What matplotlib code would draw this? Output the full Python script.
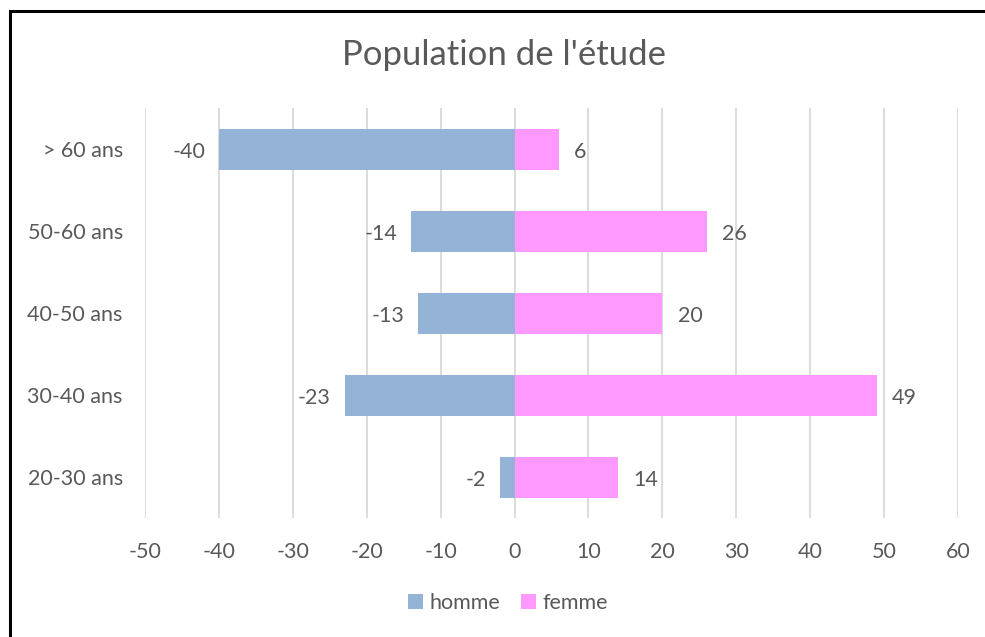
import matplotlib
matplotlib.use("Agg")
import matplotlib.pyplot as plt
from matplotlib.patches import Rectangle

categories = ["20-30 ans", "30-40 ans", "40-50 ans", "50-60 ans", "> 60 ans"]
homme = [-2, -23, -13, -14, -40]
femme = [14, 49, 20, 26, 6]
xticks = [-50, -40, -30, -20, -10, 0, 10, 20, 30, 40, 50, 60]

c_h = "#95B3D7"
c_f = "#FF99FF"
txt = "#595959"
grid = "#D9D9D9"

plt.rcParams['font.family'] = ['Lato', 'DejaVu Sans']
fs = 15.5

fig = plt.figure(figsize=(9.85, 6.37), dpi=100)
ax = fig.add_axes([145/985, 1-518/637, (958-145)/985, (518-108)/637])

y = list(range(len(categories)))
bh = ax.barh(y, homme, height=0.5, color=c_h, label="homme", zorder=3)
bf = ax.barh(y, femme, height=0.5, color=c_f, label="femme", zorder=3)

for yi, v in zip(y, homme):
    ax.annotate(f"{v}", (v, yi), xytext=(-10, -2), textcoords="offset points",
                ha="right", va="center", fontsize=fs, color=txt)
for yi, v in zip(y, femme):
    ax.annotate(f"{v}", (v, yi), xytext=(11, -2), textcoords="offset points",
                ha="left", va="center", fontsize=fs, color=txt)

ax.set_xlim(-50, 60)
ax.set_ylim(-0.5, len(categories) - 0.5)
ax.set_xticks(xticks)
ax.set_xticklabels([str(t) for t in xticks], fontsize=fs, color=txt)
ax.set_yticks(y)
ax.set_yticklabels(categories, fontsize=fs, color=txt)
ax.tick_params(axis='both', length=0)
ax.tick_params(axis='x', pad=17)
ax.tick_params(axis='y', pad=16)
for s in ax.spines.values():
    s.set_visible(False)
ax.xaxis.grid(True, color=grid, linewidth=1.3, zorder=0)
ax.set_axisbelow(True)

fig.text(504/985, 1-55/637, "Population de l'étude", ha="center", va="center",
         fontsize=25, color=txt)

leg = fig.legend(handles=[bh, bf], labels=["homme", "femme"], loc="center",
                 bbox_to_anchor=(508/985, 1-603/637), ncol=2, frameon=False,
                 fontsize=fs, handlelength=0.7, handleheight=0.7,
                 handletextpad=0.3, columnspacing=1.0)
for t in leg.get_texts():
    t.set_color(txt)

fig.patches.append(Rectangle((10/985, -0.1), 1.2, 1 - 11/637 + 0.1,
                             transform=fig.transFigure, fill=False,
                             edgecolor="black", linewidth=2.2))

fig.savefig("out.png", dpi=100)
